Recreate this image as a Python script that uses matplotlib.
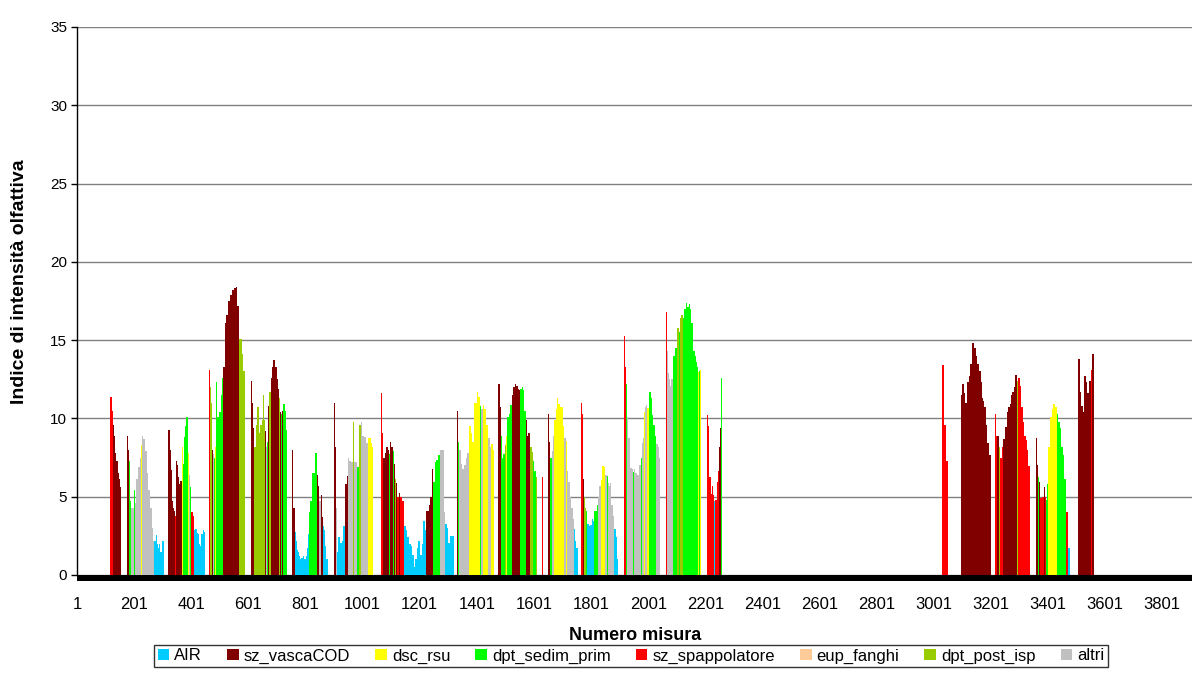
import matplotlib
matplotlib.use("Agg")
import matplotlib.pyplot as plt
from matplotlib.patches import Patch, Rectangle

plt.rcParams['font.family'] = ['Liberation Sans', 'DejaVu Sans']

# ---------------- data ----------------
series_names = ["AIR", "sz_vascaCOD", "dsc_rsu", "dpt_sedim_prim",
                "sz_spappolatore", "eup_fanghi", "dpt_post_isp", "altri"]
series_codes = ["A", "S", "D", "P", "Z", "E", "O", "L"]
series_colors = ["#00CCFF", "#800000", "#FFFF00", "#00FF00",
                 "#FF0000", "#FFCC99", "#99CC00", "#C0C0C0"]

x_tick_labels = list(range(1, 3802, 200))
y_ticks = [0, 5, 10, 15, 20, 25, 30, 35]
n_measures = 3905

# runs of consecutive measurements: (series code, number of measurements, value)
run_117 = [("Z", 5, 11.4), ("Z", 4, 10.5), ("S", 5, 9.6), ("S", 4, 8.9), ("S", 4, 7.8),
           ("S", 4, 7.3), ("S", 4, 6.5), ("S", 4, 6.1), ("S", 4, 5.6)]
run_176 = [("S", 3, 8.9), ("S", 3, 8.0), ("P", 3, 7.3), ("D", 2, 5.5), ("P", 4, 4.7),
           ("L", 10, 4.3), ("P", 2, 5.4), ("L", 4, 4.6), ("L", 6, 6.1), ("D", 2, 6.9),
           ("L", 5, 6.9), ("L", 6, 7.5), ("D", 2, 8.3), ("L", 4, 8.9), ("L", 6, 8.7),
           ("L", 7, 7.9), ("L", 6, 6.5), ("L", 6, 5.4), ("L", 6, 4.3), ("L", 5, 3.0),
           ("L", 3, 2.2), ("A", 5, 2.2), ("A", 4, 2.55), ("A", 5, 1.95), ("A", 4, 1.75),
           ("A", 4, 1.95), ("A", 4, 1.5), ("A", 4, 2.2), ("A", 5, 2.2)]
run_320 = [("S", 7, 9.25), ("S", 4, 8.0), ("S", 3, 6.7), ("S", 4, 4.7), ("S", 3, 4.25),
           ("S", 4, 4.1), ("Z", 3, 3.8), ("S", 4, 7.3), ("S", 3, 7.0), ("S", 4, 6.25),
           ("S", 3, 5.8), ("S", 7, 6.0), ("D", 2, 8.2), ("P", 3, 7.1), ("P", 6, 8.8),
           ("P", 4, 9.5), ("P", 4, 10.1), ("P", 3, 8.9), ("D", 3, 7.8), ("L", 2, 6.4),
           ("P", 4, 5.6), ("Z", 6, 4.0), ("Z", 5, 3.8), ("A", 5, 2.9), ("A", 4, 2.95),
           ("A", 5, 2.7), ("A", 4, 2.6), ("A", 4, 1.95), ("A", 4, 1.85), ("A", 4, 2.6),
           ("A", 4, 2.9), ("A", 5, 2.75)]
run_463 = [("Z", 4, 13.1), ("O", 4, 12.0), ("O", 4, 11.0), ("S", 2, 8.0), ("L", 3, 7.7),
           ("P", 3, 7.5), ("L", 2, 7.7), ("D", 2, 8.2), ("P", 3, 12.3), ("P", 8, 10.1),
           ("P", 6, 10.4), ("P", 6, 11.5), ("P", 2, 12.6), ("S", 6, 13.3), ("S", 6, 16.1),
           ("S", 6, 16.6), ("S", 6, 17.5), ("S", 7, 17.9), ("S", 7, 18.2), ("S", 7, 18.3),
           ("S", 5, 18.4), ("S", 5, 17.2), ("Z", 3, 16.1), ("O", 9, 15.1), ("O", 5, 14.1),
           ("O", 7, 13.0)]
run_610 = [("S", 4, 12.4), ("S", 4, 11.0), ("S", 2, 9.4), ("O", 2, 8.55), ("O", 6, 8.2),
           ("O", 5, 9.6), ("O", 6, 10.7), ("O", 3, 9.1), ("O", 6, 9.6), ("O", 6, 9.9),
           ("O", 2, 11.5), ("O", 4, 9.9), ("S", 3, 9.2), ("L", 3, 8.2), ("P", 4, 8.5),
           ("S", 3, 10.8), ("P", 2, 10.3), ("O", 4, 11.7), ("S", 5, 12.6), ("S", 5, 13.3),
           ("S", 7, 13.7), ("S", 5, 13.3), ("S", 5, 12.5), ("S", 3, 11.9), ("O", 3, 11.3),
           ("S", 5, 10.4), ("P", 1, 10.3), ("S", 6, 10.5), ("P", 5, 10.9), ("P", 5, 10.5),
           ("P", 4, 9.25)]
run_754 = [("S", 5, 8.0), ("S", 4, 4.25), ("A", 4, 2.75), ("A", 4, 2.2), ("A", 4, 1.6),
           ("A", 4, 1.5), ("A", 4, 1.2), ("A", 4, 1.05), ("A", 4, 1.1), ("A", 4, 1.2),
           ("A", 4, 1.05), ("A", 4, 1.0), ("A", 4, 1.2), ("A", 4, 1.75), ("A", 4, 2.6),
           ("P", 3, 4.0), ("P", 5, 4.7), ("P", 4, 6.5), ("P", 6, 6.5), ("P", 3, 7.3),
           ("P", 4, 7.8), ("P", 2, 7.1), ("S", 4, 6.4), ("S", 4, 5.7), ("L", 4, 4.7),
           ("S", 4, 5.1), ("S", 3, 3.7), ("A", 5, 3.1), ("A", 4, 2.85), ("A", 4, 1.85),
           ("A", 5, 1.05)]
run_901 = [("S", 3, 11.0), ("S", 4, 8.2), ("L", 3, 4.3), ("A", 5, 1.5), ("A", 6, 2.4),
           ("A", 6, 2.05), ("A", 5, 2.2), ("A", 6, 3.1), ("S", 6, 5.8), ("S", 6, 6.3),
           ("L", 4, 7.5), ("L", 4, 7.3), ("P", 3, 7.5), ("L", 6, 7.2), ("O", 2, 9.8),
           ("L", 13, 7.2), ("P", 7, 6.9), ("O", 5, 9.6), ("L", 5, 9.8), ("L", 6, 8.9),
           ("L", 6, 8.8), ("L", 9, 8.45), ("D", 9, 8.75), ("D", 5, 8.45), ("D", 4, 8.2)]
run_1066 = [("Z", 3, 11.6), ("Z", 4, 9.1), ("S", 5, 7.5), ("S", 5, 7.8), ("S", 6, 8.2),
            ("S", 6, 8.0), ("P", 3, 7.7), ("S", 4, 8.5), ("S", 5, 8.2), ("P", 3, 7.9),
            ("S", 4, 7.1), ("O", 3, 6.1), ("S", 5, 5.9), ("Z", 7, 5.0), ("S", 4, 5.25),
            ("Z", 7, 5.0), ("Z", 7, 4.7),
            ("A", 6, 3.1), ("A", 5, 2.85), ("A", 6, 2.4), ("A", 5, 1.95), ("A", 6, 1.85),
            ("A", 5, 1.3), ("A", 6, 0.5), ("A", 5, 1.0), ("A", 6, 1.75), ("A", 5, 2.2),
            ("A", 6, 1.3), ("A", 5, 1.95), ("A", 6, 3.45), ("A", 6, 2.9),
            ("S", 8, 4.1), ("S", 6, 4.5), ("S", 6, 4.95), ("S", 4, 6.75), ("P", 5, 5.95),
            ("P", 5, 7.2), ("P", 5, 7.35), ("P", 7, 7.65), ("L", 14, 8.0), ("L", 5, 4.0),
            ("A", 7, 3.25), ("A", 5, 3.0), ("A", 5, 2.05), ("A", 5, 2.5), ("A", 9, 2.5)]
run_1332 = [("S", 3, 10.5), ("P", 4, 8.5), ("L", 6, 8.0), ("L", 5, 7.1), ("L", 6, 6.8),
            ("L", 6, 7.0), ("L", 5, 7.5), ("L", 8, 7.8), ("D", 5, 9.5), ("D", 6, 9.1),
            ("D", 5, 8.5), ("D", 5, 11.0), ("D", 5, 11.0), ("D", 5, 11.7), ("D", 5, 11.4),
            ("P", 5, 10.8), ("L", 6, 10.6), ("D", 6, 10.85), ("D", 6, 10.6), ("D", 6, 9.6),
            ("D", 1, 11.2), ("L", 5, 8.75), ("L", 5, 8.2), ("D", 6, 8.35), ("D", 6, 8.0)]
run_1475 = [("S", 6, 12.2), ("S", 4, 10.7), ("P", 3, 8.9), ("P", 5, 7.5), ("P", 6, 7.7),
            ("O", 3, 8.3), ("D", 6, 8.9), ("P", 5, 10.1), ("P", 6, 10.3), ("P", 5, 10.85),
            ("S", 5, 11.5), ("S", 5, 12.0), ("S", 5, 12.2), ("S", 5, 12.1), ("S", 5, 11.85),
            ("S", 5, 11.8), ("P", 5, 11.9), ("P", 4, 12.0), ("P", 4, 11.8), ("P", 5, 10.5),
            ("S", 5, 9.9), ("S", 5, 8.9), ("S", 5, 9.1), ("S", 2, 8.95), ("O", 5, 8.2),
            ("O", 4, 7.85), ("P", 5, 7.3), ("P", 5, 6.65), ("O", 5, 6.25)]
run_1630 = [("Z", 2, 6.25)]
run_1651 = [("S", 3, 10.3), ("S", 2, 8.5), ("P", 8, 7.5), ("L", 4, 7.9), ("L", 4, 8.9),
            ("D", 6, 9.9), ("D", 5, 10.6), ("D", 4, 11.3), ("D", 6, 10.9), ("D", 10, 10.7),
            ("D", 4, 9.5), ("L", 6, 8.75), ("D", 3, 8.55), ("P", 2, 7.7), ("L", 4, 6.65),
            ("L", 6, 5.95), ("L", 4, 4.95), ("L", 5, 4.3), ("L", 4, 3.6), ("A", 4, 2.95),
            ("A", 4, 2.2), ("A", 5, 1.75), ("A", 2, 1.5)]
run_1766 = [("Z", 4, 11.0), ("Z", 3, 10.3), ("S", 3, 6.1), ("O", 4, 5.0), ("O", 4, 4.3),
            ("P", 4, 4.1), ("A", 5, 3.25), ("A", 5, 3.1), ("A", 5, 3.2), ("A", 5, 3.6),
            ("A", 4, 3.45), ("P", 9, 4.1), ("P", 4, 4.5), ("L", 5, 4.95), ("L", 5, 5.7),
            ("D", 5, 6.05), ("D", 6, 6.95), ("D", 5, 6.9), ("L", 6, 6.4), ("P", 3, 6.3),
            ("L", 5, 5.9), ("L", 4, 5.7), ("L", 3, 5.9), ("L", 6, 4.5), ("L", 5, 3.75),
            ("A", 5, 2.95), ("A", 5, 2.4), ("A", 4, 1.05)]
run_1917 = [("Z", 4, 15.25), ("Z", 3, 13.3), ("P", 2, 12.2), ("L", 2, 11.5), ("L", 4, 10.1),
            ("L", 7, 8.75), ("L", 6, 6.85), ("L", 4, 6.75), ("P", 2, 6.6), ("L", 6, 6.8),
            ("L", 6, 6.5), ("L", 6, 6.4), ("L", 6, 7.05), ("P", 4, 7.5), ("L", 5, 8.45),
            ("L", 3, 8.75), ("D", 4, 10.4), ("L", 4, 10.7), ("L", 4, 10.85), ("D", 6, 10.65),
            ("P", 6, 11.7), ("P", 3, 11.3), ("P", 5, 10.25), ("P", 5, 9.6), ("P", 5, 8.9),
            ("L", 6, 8.35), ("L", 3, 8.2), ("L", 4, 7.5)]
run_2063 = [("Z", 3, 16.8), ("L", 4, 14.3), ("L", 4, 12.9), ("L", 4, 12.5), ("L", 5, 12.05),
            ("L", 5, 12.5), ("L", 2, 12.75), ("P", 5, 14.0), ("P", 4, 14.5), ("P", 5, 14.5),
            ("O", 4, 15.75), ("P", 5, 15.5), ("O", 5, 16.4), ("O", 4, 16.6), ("P", 5, 16.4),
            ("P", 6, 17.0), ("P", 3, 17.4), ("P", 3, 17.7), ("P", 5, 17.1), ("P", 5, 17.3),
            ("P", 4, 17.0), ("P", 7, 16.1), ("P", 5, 14.3), ("P", 4, 14.0), ("P", 5, 13.6),
            ("P", 3, 13.3), ("D", 4, 12.95), ("P", 2, 13.0), ("D", 4, 13.1)]
run_2208 = [("Z", 3, 10.25), ("Z", 5, 9.5), ("Z", 4, 6.25), ("Z", 4, 5.2), ("Z", 4, 5.7),
            ("Z", 4, 5.1), ("A", 3, 4.7), ("Z", 7, 4.8), ("Z", 4, 5.95), ("Z", 4, 6.65),
            ("S", 3, 8.2), ("S", 3, 9.4), ("D", 2, 11.0), ("P", 3, 12.6)]
run_3030 = [("Z", 6, 13.4), ("Z", 3, 11.7), ("Z", 4, 9.6), ("Z", 3, 8.55), ("Z", 4, 7.3),
            ("Z", 2, 7.1)]
run_3097 = [("S", 5, 11.5), ("S", 5, 12.2), ("S", 5, 11.6), ("S", 6, 11.0), ("S", 6, 12.3),
            ("S", 6, 12.7), ("S", 6, 13.5), ("S", 6, 14.8), ("S", 6, 14.5), ("S", 6, 14.0),
            ("S", 6, 13.5), ("S", 6, 13.0), ("S", 3, 12.3), ("S", 4, 11.3), ("S", 4, 11.1),
            ("S", 6, 10.7), ("S", 6, 9.6), ("S", 7, 8.4), ("S", 5, 7.65)]
run_3216 = [("Z", 4, 10.3), ("Z", 4, 8.9), ("S", 5, 8.9), ("Z", 2, 9.2), ("O", 2, 8.2),
            ("Z", 7, 7.5), ("Z", 3, 8.2), ("D", 2, 8.2), ("S", 7, 8.7), ("S", 5, 9.45),
            ("S", 5, 10.4), ("S", 5, 10.7), ("S", 5, 10.95), ("S", 5, 11.5), ("S", 6, 11.7),
            ("S", 3, 12.0), ("S", 6, 12.75), ("O", 6, 12.4), ("Z", 5, 12.6), ("Z", 5, 12.05),
            ("Z", 5, 10.7), ("Z", 5, 9.8), ("Z", 5, 8.9), ("Z", 5, 8.6), ("Z", 5, 8.0),
            ("Z", 7, 6.95)]
run_3360 = [("S", 4, 8.75), ("S", 3, 7.05), ("P", 4, 6.25), ("S", 4, 5.95), ("Z", 4, 4.9),
            ("Z", 2, 9.45), ("Z", 6, 5.0), ("S", 4, 5.6), ("Z", 3, 5.0), ("P", 5, 4.8),
            ("P", 4, 5.8), ("D", 5, 8.2), ("D", 6, 10.1), ("D", 6, 10.6), ("D", 6, 10.95),
            ("D", 7, 10.7), ("P", 5, 10.3), ("P", 5, 9.8), ("P", 5, 9.4), ("P", 5, 8.2),
            ("P", 5, 7.65), ("P", 5, 6.1), ("Z", 3, 5.6), ("Z", 4, 4.0), ("A", 3, 2.7),
            ("A", 7, 1.75)]
run_3507 = [("S", 7, 13.8), ("S", 4, 11.7), ("S", 6, 10.8), ("S", 5, 10.4), ("S", 5, 12.7),
            ("S", 6, 12.3), ("S", 6, 11.6), ("S", 5, 12.4), ("Z", 6, 13.1), ("S", 7, 14.1)]

groups = [(117, run_117), (176, run_176), (320, run_320), (463, run_463),
          (610, run_610), (754, run_754), (901, run_901), (1066, run_1066),
          (1332, run_1332), (1475, run_1475), (1630, run_1630), (1651, run_1651),
          (1766, run_1766), (1917, run_1917), (2063, run_2063), (2208, run_2208),
          (3030, run_3030), (3097, run_3097), (3216, run_3216), (3360, run_3360),
          (3507, run_3507)]

# ---------------- figure ----------------
W, H = 1192, 691
fig = plt.figure(figsize=(W / 100, H / 100), dpi=100)
ax = fig.add_axes([77 / W, 1 - 575 / H, (W - 77) / W, (575 - 27) / H])

bars = {c: ([], [], []) for c in series_codes}
for start, runs in groups:
    pos = start
    for code, n, v in runs:
        bars[code][0].append(pos - 0.5)
        bars[code][1].append(n)
        bars[code][2].append(v)
        pos += n

for code, color in zip(series_codes, series_colors):
    lefts, widths, heights = bars[code]
    if lefts:
        ax.bar(lefts, heights, width=widths, align='edge', color=color,
               linewidth=0, antialiased=False, zorder=2)

ax.set_xlim(0.5, n_measures + 0.5)
ax.set_ylim(0, 35)
ax.set_yticks(y_ticks)
ax.set_xticks(x_tick_labels)
ax.set_xticklabels([str(t) for t in x_tick_labels])
ax.grid(axis='y', color='#808080', linewidth=1.0, zorder=0)
ax.set_axisbelow(True)
for s in ['top', 'right', 'bottom']:
    ax.spines[s].set_visible(False)
ax.spines['left'].set_color('black')
ax.spines['left'].set_linewidth(1.0)

ax.tick_params(axis='y', direction='out', length=4, width=1, pad=3,
               labelsize=11, colors='black')
ax.tick_params(axis='x', length=0, pad=16, labelsize=12, colors='black')

# dense category tick band below the axis
ax.add_patch(Rectangle((0, -6 / 548), 1, 6 / 548, transform=ax.transAxes,
                       facecolor='black', edgecolor='none', clip_on=False, zorder=3))

fig.text(20 / W, 1 - 282 / H, "Indice di intensità olfattiva", rotation=90,
         ha='center', va='center', fontsize=14, fontweight='bold')
fig.text(635 / W, 1 - 635 / H, "Numero misura", ha='center', va='center',
         fontsize=13, fontweight='bold')

handles = [Patch(facecolor=c, edgecolor='none') for c in series_colors]
leg = fig.legend(handles, series_names, loc='center',
                 bbox_to_anchor=(631 / W, 1 - 656 / H), ncol=8, fontsize=12,
                 frameon=True, fancybox=False, edgecolor='black',
                 handlelength=0.7, handleheight=0.7, handletextpad=0.3,
                 columnspacing=1.5, borderpad=0.2, borderaxespad=0)
leg.get_frame().set_linewidth(1.0)

fig.savefig("out.png", dpi=100)
